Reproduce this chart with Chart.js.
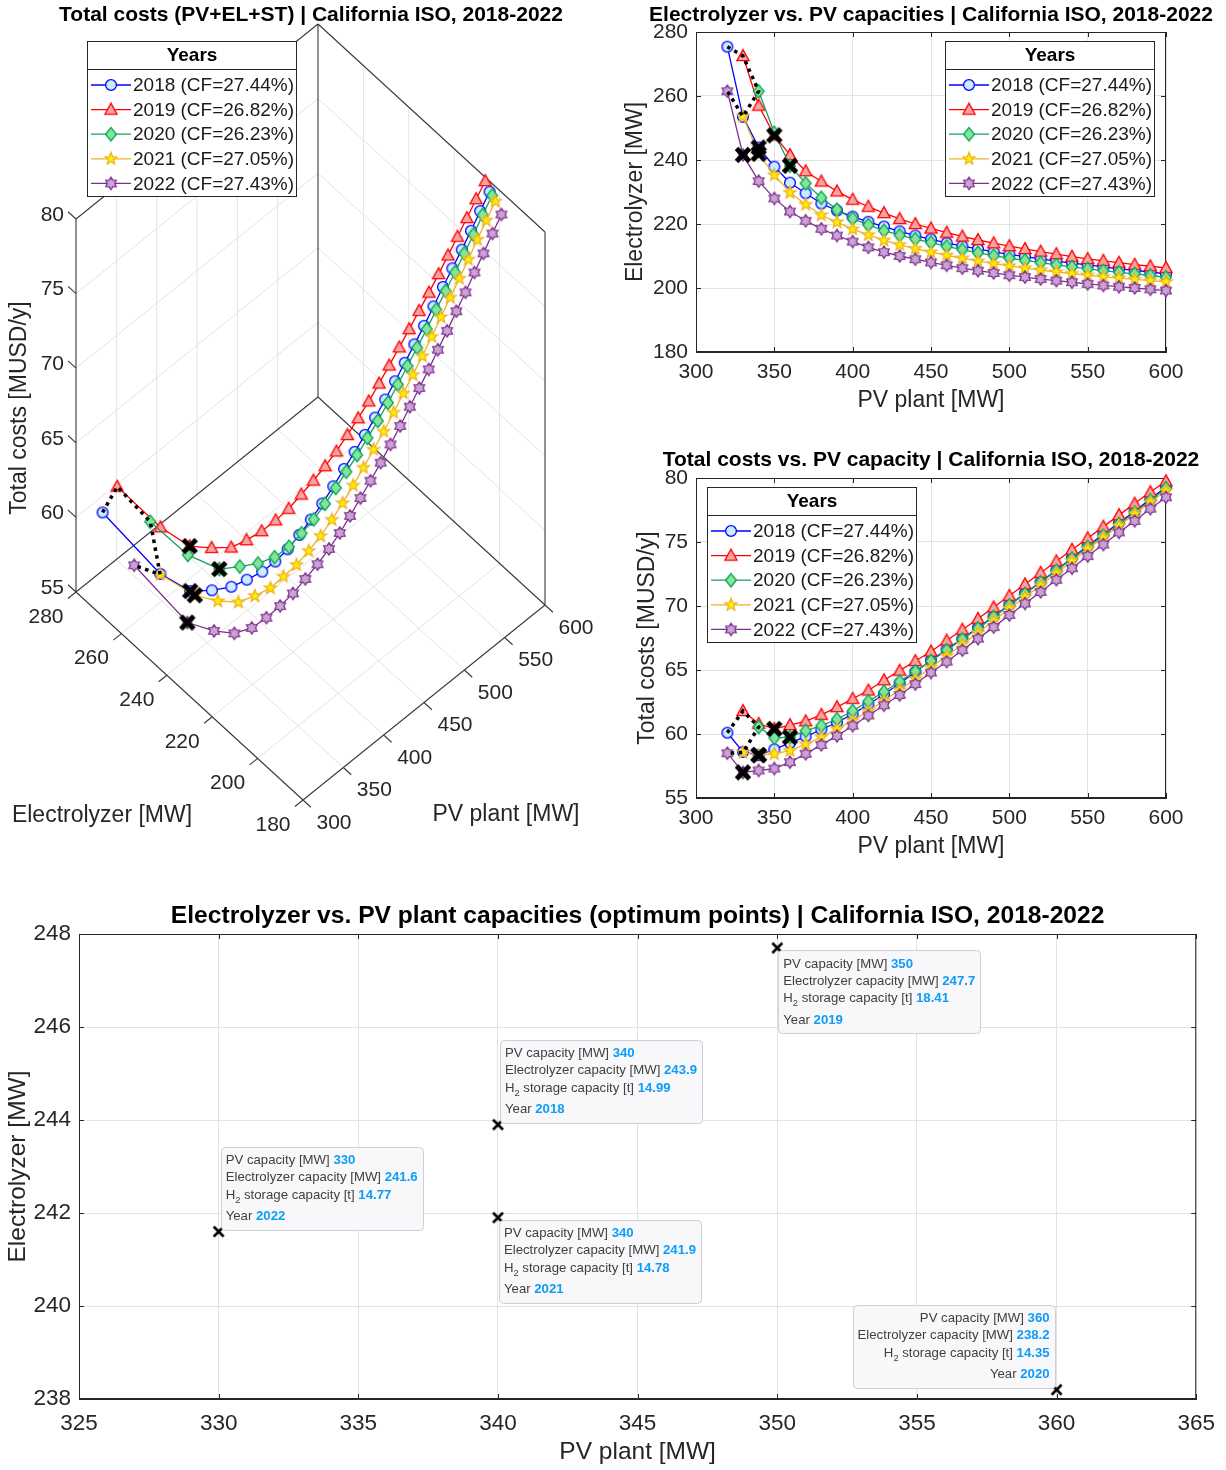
<!DOCTYPE html>
<html>
<head>
<meta charset="utf-8">
<title>California ISO 2018-2022</title>
<script src="https://cdn.jsdelivr.net/npm/chart.js@4.4.1/dist/chart.umd.min.js"></script>
<style>
  html, body { margin:0; padding:0; background:#ffffff; }
  body { position:relative; width:1226px; height:1470px; overflow:hidden; }
  canvas { position:absolute; display:block; }
</style>
</head>
<body>
<canvas id="c3d" width="600" height="860" style="left:0px;top:0px;width:600px;height:860px"></canvas>
<canvas id="cEl" width="626" height="430" style="left:600px;top:0px;width:626px;height:430px"></canvas>
<canvas id="cCost" width="626" height="440" style="left:600px;top:430px;width:626px;height:440px"></canvas>
<canvas id="cOpt" width="1226" height="590" style="left:0px;top:880px;width:1226px;height:590px"></canvas>
<script>
// ================= DATA =================
const pvPlant = [320,330,340,350,360,370,380,390,400,410,420,430,440,450,460,470,480,490,500,510,520,530,540,550,560,570,580,590,600];
const years = ['2018','2019','2020','2021','2022'];
const cfValues = ['27.44','26.82','26.23','27.05','27.43'];
const legendTitle = 'Years';

// Electrolyzer capacity [MW] per PV capacity
const el2018 = [275.4,253.5,243.9,237.9,232.9,229.6,226.4,224.2,222.3,220.7,219.2,217.7,216.4,215.2,214.1,213.1,212.2,211.3,210.5,209.8,209.1,208.4,207.8,207.2,206.6,206.0,205.5,205.0,204.4];
const el2019 = [null,272.5,257.0,247.7,241.6,236.5,233.3,230.2,227.6,225.4,223.4,221.6,220.0,218.6,217.3,216.1,215.0,214.0,213.1,212.2,211.4,210.6,209.8,209.1,208.5,207.9,207.3,206.8,206.3];
const el2020 = [null,null,261.5,248.5,238.2,232.7,228.2,224.5,221.7,219.7,217.9,216.5,215.3,214.2,213.0,212.0,211.0,210.1,209.3,208.6,207.9,207.2,206.6,206.0,205.4,204.9,204.4,203.9,203.3];
const el2021 = [null,253.6,241.9,235.3,229.8,226.1,222.8,220.6,218.4,216.6,214.9,213.5,212.3,211.2,210.2,209.3,208.4,207.6,206.9,206.2,205.6,205.0,204.5,204.0,203.5,203.1,202.7,202.3,201.9];
const el2022 = [261.5,241.6,233.4,228.0,223.9,221.0,218.5,216.4,214.5,212.7,211.2,210.0,209.0,208.0,207.1,206.2,205.4,204.7,204.0,203.4,202.8,202.3,201.8,201.3,200.8,200.4,200.0,199.6,199.2];

// Total costs [MUSD/y] per PV capacity
const cost2018 = [60.1,58.6,58.35,58.8,59.3,59.8,60.35,60.9,61.55,62.3,63.1,63.95,64.85,65.75,66.6,67.45,68.3,69.2,70.1,71.0,71.9,72.8,73.75,74.7,75.6,76.5,77.4,78.35,79.3];
const cost2019 = [null,61.8,60.8,60.4,60.7,61.0,61.5,62.1,62.75,63.4,64.2,64.95,65.7,66.45,67.3,68.15,69.0,69.9,70.8,71.7,72.6,73.5,74.4,75.3,76.2,77.1,78.0,78.9,79.75];
const cost2020 = [null,null,60.55,59.7,59.75,60.25,60.65,61.15,61.8,62.55,63.3,64.1,64.9,65.7,66.55,67.4,68.25,69.15,70.05,70.95,71.85,72.75,73.7,74.6,75.5,76.4,77.3,78.25,79.2];
const cost2021 = [null,58.55,58.35,58.45,58.7,59.2,59.75,60.4,61.05,61.8,62.6,63.45,64.3,65.2,66.1,67.0,67.9,68.85,69.8,70.7,71.6,72.55,73.5,74.45,75.35,76.25,77.2,78.1,79.0];
const cost2022 = [58.5,57.0,57.15,57.3,57.8,58.45,59.15,59.85,60.65,61.45,62.25,63.05,63.9,64.8,65.65,66.55,67.45,68.35,69.3,70.2,71.1,72.05,72.95,73.9,74.8,75.75,76.65,77.6,78.5];

// Optimum points
const optPV = [340,350,360,340,330];
const optEL = [243.9,247.7,238.2,241.9,241.6];
const optStorage = [14.99,18.41,14.35,14.78,14.77];

// Tick values
const pvTicks = [300,350,400,450,500,550,600];
const elTicks = [180,200,220,240,260,280];
const costTicks = [55,60,65,70,75,80];

// ================= STYLE =================
const FONT = '"Liberation Sans", Arial, Helvetica, sans-serif';
const AX = '#262626';
const GRID = '#e2e2e2';
const lineColors = ['#0000ff','#ff0000','#13a05e','#efb122','#7e2f8e'];
const edgeColors = ['#0000ff','#ff0000','#00a651','#efb122','#7e2f8e'];
const faceColors = ['#c9edff','#f6a3a3','#86e39b','#ffee00','#c8a3d3'];
const markerKinds = ['circle','triangle','diamond','pentagram','hexagram'];
const tipPlace = ['ur','dr','ul','dr','ur'];

const elSeries = [el2018, el2019, el2020, el2021, el2022];
const costSeries = [cost2018, cost2019, cost2020, cost2021, cost2022];
const legendLabels = years.map((y, k) => y + ' (CF=' + cfValues[k] + '%)');

function makeMarker(kind, stroke, fill) {
  const s = 18; const c = document.createElement('canvas'); c.width = s; c.height = s;
  const g = c.getContext('2d'); g.translate(s / 2, s / 2);
  g.lineWidth = 1.3; g.strokeStyle = stroke; g.fillStyle = fill; g.lineJoin = 'miter';
  g.beginPath();
  if (kind === 'circle') g.arc(0, 0, 5.4, 0, Math.PI * 2);
  else if (kind === 'triangle') { g.moveTo(0, -6.4); g.lineTo(6.1, 4.7); g.lineTo(-6.1, 4.7); g.closePath(); }
  else if (kind === 'diamond') { g.moveTo(0, -6.6); g.lineTo(5.4, 0); g.lineTo(0, 6.6); g.lineTo(-5.4, 0); g.closePath(); }
  else if (kind === 'pentagram') {
    for (let i = 0; i < 10; i++) { const r = i % 2 ? 2.7 : 6.4; const a = -Math.PI / 2 + i * Math.PI / 5; g.lineTo(r * Math.cos(a), r * Math.sin(a)); }
    g.closePath();
  } else if (kind === 'hexagram') {
    for (let i = 0; i < 12; i++) { const r = i % 2 ? 3.8 : 6.1; const a = -Math.PI / 2 + i * Math.PI / 6; g.lineTo(r * Math.cos(a), r * Math.sin(a)); }
    g.closePath();
  }
  g.fill(); g.stroke();
  return c;
}
function makeCross(half, lw) {
  const s = Math.ceil(2 * half + lw + 4); const c = document.createElement('canvas'); c.width = s; c.height = s;
  const g = c.getContext('2d'); g.translate(s / 2, s / 2);
  g.strokeStyle = '#000'; g.lineWidth = lw; g.lineCap = 'butt';
  g.beginPath(); g.moveTo(-half, -half); g.lineTo(half, half); g.moveTo(half, -half); g.lineTo(-half, half); g.stroke();
  return c;
}
const markers = markerKinds.map((k, i) => makeMarker(k, edgeColors[i], faceColors[i]));
const bigX = makeCross(6.5, 5);
const smallX = makeCross(5, 2.6);

function firstIndex(arr) { return arr.findIndex(v => v != null); }
function pairs(xs, ys) { return xs.map((x, i) => ys[i] == null ? null : { x: x, y: ys[i] }).filter(Boolean); }
function costAt(k, pv) { return costSeries[k][pvPlant.indexOf(pv)]; }

function drawLegend(ctx, x, y) {
  const w = 210, h = 156;
  ctx.save();
  ctx.fillStyle = '#fff'; ctx.fillRect(x, y, w, h);
  ctx.strokeStyle = AX; ctx.lineWidth = 1;
  ctx.strokeRect(x + 0.5, y + 0.5, w - 1, h - 1);
  ctx.beginPath(); ctx.moveTo(x, y + 28.5); ctx.lineTo(x + w, y + 28.5); ctx.stroke();
  ctx.fillStyle = '#000'; ctx.font = 'bold 19px ' + FONT; ctx.textAlign = 'center'; ctx.textBaseline = 'middle';
  ctx.fillText(legendTitle, x + w / 2, y + 15);
  ctx.font = '19px ' + FONT; ctx.textAlign = 'left';
  legendLabels.forEach((lab, k) => {
    const cy = y + 44 + k * 24.6;
    ctx.strokeStyle = lineColors[k]; ctx.lineWidth = 1.3;
    ctx.beginPath(); ctx.moveTo(x + 4, cy); ctx.lineTo(x + 44, cy); ctx.stroke();
    const m = markers[k]; ctx.drawImage(m, x + 24 - m.width / 2, cy - m.height / 2);
    ctx.fillStyle = '#1a1a1a'; ctx.fillText(lab, x + 46, cy + 1);
  });
  ctx.restore();
}

function text(ctx, str, x, y, font, opts) {
  opts = opts || {};
  ctx.save();
  ctx.font = font; ctx.fillStyle = opts.color || AX; ctx.textAlign = opts.align || 'center'; ctx.textBaseline = 'middle';
  ctx.translate(x, y); if (opts.rot) ctx.rotate(opts.rot);
  ctx.fillText(str, 0, 0);
  ctx.restore();
}

// ================= 2D frame plugin =================
const framePlugin = {
  id: 'frame2d',
  beforeDatasetsDraw(chart) {
    const { ctx, chartArea: a, scales: { x, y } } = chart;
    ctx.save();
    ctx.strokeStyle = AX; ctx.lineWidth = 1;
    ctx.beginPath();
    ctx.moveTo(a.left, a.top + 0.5); ctx.lineTo(a.right, a.top + 0.5);
    ctx.moveTo(a.right - 0.5, a.top); ctx.lineTo(a.right - 0.5, a.bottom);
    ctx.moveTo(a.left + 0.5, a.top); ctx.lineTo(a.left + 0.5, a.bottom);
    ctx.moveTo(a.left, a.bottom - 0.5); ctx.lineTo(a.right, a.bottom - 0.5);
    x.ticks.forEach(t => {
      const px = Math.round(x.getPixelForValue(t.value)) + 0.5;
      ctx.moveTo(px, a.bottom); ctx.lineTo(px, a.bottom - 5);
      ctx.moveTo(px, a.top); ctx.lineTo(px, a.top + 5);
    });
    y.ticks.forEach(t => {
      const py = Math.round(y.getPixelForValue(t.value)) + 0.5;
      ctx.moveTo(a.left, py); ctx.lineTo(a.left + 5, py);
      ctx.moveTo(a.right, py); ctx.lineTo(a.right - 5, py);
    });
    ctx.stroke();
    ctx.restore();
  }
};

function axisOpts(min, max, step, fontSize, padding, fit, isX) {
  return {
    type: 'linear', min: min, max: max,
    ticks: { stepSize: step, autoSkip: false, maxRotation: 0, padding: padding, color: AX, font: { family: FONT, size: fontSize } },
    grid: { color: GRID, lineWidth: 1, drawTicks: false },
    border: { color: AX, width: 1 },
    afterFit: s => { if (isX) s.height = fit; else s.width = fit; }
  };
}

function seriesDatasets(valSeries) {
  const ds = [];
  years.forEach((yr, k) => {
    ds.push({
      label: yr, data: pairs(pvPlant, valSeries[k]), showLine: true,
      borderColor: lineColors[k], borderWidth: 1.3, backgroundColor: faceColors[k],
      pointStyle: markers[k], pointRadius: 6, order: 10 - k, clip: false
    });
  });
  // dotted line linking the first point of each year
  ds.push({
    label: 'first', data: years.map((_, k) => { const i = firstIndex(valSeries[k]); return { x: pvPlant[i], y: valSeries[k][i] }; }),
    showLine: true, borderColor: '#000', borderWidth: 3.5, borderDash: [3.5, 4.5], pointRadius: 0, order: 1, clip: false
  });
  return ds;
}

const commonOpts = {
  responsive: false, animation: false, devicePixelRatio: 1, events: [],
  plugins: { legend: { display: false }, tooltip: { enabled: false }, title: { display: false } }
};

// ================= Chart B : Electrolyzer vs PV =================
(function () {
  const ds = seriesDatasets(elSeries);
  ds.push({ label: 'opt', data: years.map((_, k) => ({ x: optPV[k], y: optEL[k] })), showLine: false,
    pointStyle: bigX, pointRadius: 8, order: 0, clip: false });
  new Chart(document.getElementById('cEl'), {
    type: 'scatter',
    data: { datasets: ds },
    options: Object.assign({}, commonOpts, {
      layout: { autoPadding: false, padding: { left: 0, right: 60, top: 32, bottom: 0 } },
      scales: {
        x: axisOpts(300, 600, 50, 21, 8, 78, true),
        y: axisOpts(180, 280, 20, 21, 8, 96, false)
      }
    }),
    plugins: [framePlugin, {
      id: 'txtB',
      afterDraw(chart) {
        const { ctx, chartArea: a } = chart; const cx = (a.left + a.right) / 2;
        text(ctx, 'Electrolyzer vs. PV capacities | California ISO, 2018-2022', cx, 15, 'bold 21px ' + FONT, { color: '#000' });
        text(ctx, 'PV plant [MW]', cx, 401, '23px ' + FONT);
        text(ctx, 'Electrolyzer [MW]', 36, (a.top + a.bottom) / 2, '23px ' + FONT, { rot: -Math.PI / 2 });
        drawLegend(ctx, 345, 41);
      }
    }]
  });
})();

// ================= Chart C : Total costs vs PV =================
(function () {
  const ds = seriesDatasets(costSeries);
  ds.push({ label: 'opt', data: years.map((_, k) => ({ x: optPV[k], y: costAt(k, optPV[k]) })), showLine: false,
    pointStyle: bigX, pointRadius: 8, order: 0, clip: false });
  new Chart(document.getElementById('cCost'), {
    type: 'scatter',
    data: { datasets: ds },
    options: Object.assign({}, commonOpts, {
      layout: { autoPadding: false, padding: { left: 0, right: 60, top: 48, bottom: 0 } },
      scales: {
        x: axisOpts(300, 600, 50, 21, 8, 72, true),
        y: axisOpts(55, 80, 5, 21, 8, 96, false)
      }
    }),
    plugins: [framePlugin, {
      id: 'txtC',
      afterDraw(chart) {
        const { ctx, chartArea: a } = chart; const cx = (a.left + a.right) / 2;
        text(ctx, 'Total costs vs. PV capacity | California ISO, 2018-2022', cx, 30, 'bold 21px ' + FONT, { color: '#000' });
        text(ctx, 'PV plant [MW]', cx, 417, '23px ' + FONT);
        text(ctx, 'Total costs [MUSD/y]', 48, (a.top + a.bottom) / 2, '23px ' + FONT, { rot: -Math.PI / 2 });
        drawLegend(ctx, 107, 57);
      }
    }]
  });
})();

// ================= Chart D : optimum points =================
(function () {
  const tipPlugin = {
    id: 'tips',
    afterDatasetsDraw(chart) {
      const { ctx, scales: { x, y } } = chart;
      ctx.save();
      const fReg = '13.2px ' + FONT, fBold = 'bold 13.2px ' + FONT, fSub = '9.3px ' + FONT;
      years.forEach((yr, k) => {
        const px = x.getPixelForValue(optPV[k]), py = y.getPixelForValue(optEL[k]);
        const lines = [
          ['PV capacity [MW] ', String(optPV[k])],
          ['Electrolyzer capacity [MW] ', optEL[k].toFixed(1)],
          ['H2 storage capacity [t] ', optStorage[k].toFixed(2)],
          ['Year ', yr]
        ];
        const widths = lines.map((l, i) => {
          ctx.font = fReg; let w;
          if (i === 2) { w = ctx.measureText('H').width; ctx.font = fSub; w += ctx.measureText('2').width; ctx.font = fReg; w += ctx.measureText(' storage capacity [t] ').width; }
          else w = ctx.measureText(l[0]).width;
          ctx.font = fBold; return [w, ctx.measureText(l[1]).width];
        });
        const bw = Math.max(...widths.map(w => w[0] + w[1])) + 10, bh = 83;
        let left, top;
        if (tipPlace[k] === 'ur') { left = px + 2; top = py - 85; }
        else if (tipPlace[k] === 'dr') { left = px + 1; top = py + 2; }
        else { left = px - 2 - bw; top = py - 85; }
        ctx.beginPath();
        ctx.roundRect(Math.round(left) + 0.5, Math.round(top) + 0.5, bw, bh, 4);
        ctx.fillStyle = '#f8f8fb'; ctx.fill();
        ctx.strokeStyle = '#cdced6'; ctx.lineWidth = 1; ctx.stroke();
        const offs = [14, 31, 48.5, 70];
        ctx.textBaseline = 'middle'; ctx.textAlign = 'left';
        lines.forEach((l, i) => {
          const tw = widths[i][0] + widths[i][1];
          let tx = tipPlace[k] === 'ul' ? left + bw - 5 - tw : left + 5;
          const ty = top + offs[i];
          ctx.fillStyle = '#404040'; ctx.font = fReg;
          if (i === 2) {
            ctx.fillText('H', tx, ty); tx += ctx.measureText('H').width;
            ctx.font = fSub; ctx.fillText('2', tx, ty + 5); tx += ctx.measureText('2').width;
            ctx.font = fReg; ctx.fillText(' storage capacity [t] ', tx, ty); tx += ctx.measureText(' storage capacity [t] ').width;
          } else { ctx.fillText(l[0], tx, ty); tx += ctx.measureText(l[0]).width; }
          ctx.font = fBold; ctx.fillStyle = '#0d9cf7'; ctx.fillText(l[1], tx, ty);
        });
      });
      ctx.restore();
    }
  };
  new Chart(document.getElementById('cOpt'), {
    type: 'scatter',
    data: { datasets: [{ label: 'optimum', data: years.map((_, k) => ({ x: optPV[k], y: optEL[k] })),
      pointStyle: smallX, pointRadius: 5, clip: false }] },
    options: Object.assign({}, commonOpts, {
      layout: { autoPadding: false, padding: { left: 0, right: 28, top: 54, bottom: 0 } },
      scales: {
        x: axisOpts(325, 365, 5, 22.5, 11, 71, true),
        y: axisOpts(238, 248, 2, 22.5, 8, 79, false)
      }
    }),
    plugins: [framePlugin, tipPlugin, {
      id: 'txtD',
      afterDraw(chart) {
        const { ctx, chartArea: a } = chart; const cx = (a.left + a.right) / 2;
        text(ctx, 'Electrolyzer vs. PV plant capacities (optimum points) | California ISO, 2018-2022', cx, 36, 'bold 24.6px ' + FONT, { color: '#000' });
        text(ctx, 'PV plant [MW]', cx, 572, '24.5px ' + FONT);
        text(ctx, 'Electrolyzer [MW]', 18, (a.top + a.bottom) / 2, '24.5px ' + FONT, { rot: -Math.PI / 2 });
      }
    }]
  });
})();

// ================= Chart A : 3D view (orthographic projection) =================
const VIEW = { ox: 76, oy: 592, ax: 242 / 300, ay: -195 / 300, bx: -2.27, by: -2.08, cz: -14.92, pv0: 300, el0: 280, z0: 55 };
function proj(pv, el, z) {
  return {
    x: VIEW.ox + (pv - VIEW.pv0) * VIEW.ax + (el - VIEW.el0) * VIEW.bx,
    y: VIEW.oy + (pv - VIEW.pv0) * VIEW.ay + (el - VIEW.el0) * VIEW.by + (z - VIEW.z0) * VIEW.cz
  };
}
(function () {
  const ds = [];
  years.forEach((yr, k) => {
    const pts = pvPlant.map((pv, i) => elSeries[k][i] == null ? null : proj(pv, elSeries[k][i], costSeries[k][i])).filter(Boolean);
    ds.push({ label: yr, data: pts, showLine: true, borderColor: lineColors[k], borderWidth: 1.3,
      pointStyle: markers[k], pointRadius: 6, order: 10 - k, clip: false });
  });
  ds.push({ label: 'first', data: years.map((_, k) => { const i = firstIndex(elSeries[k]); return proj(pvPlant[i], elSeries[k][i], costSeries[k][i]); }),
    showLine: true, borderColor: '#000', borderWidth: 3.5, borderDash: [3.5, 4.5], pointRadius: 0, order: 1, clip: false });
  ds.push({ label: 'opt', data: years.map((_, k) => proj(optPV[k], optEL[k], costAt(k, optPV[k]))), showLine: false,
    pointStyle: bigX, pointRadius: 8, order: 0, clip: false });

  const pvMin = pvTicks[0], pvMax = pvTicks[pvTicks.length - 1];
  const elMin = elTicks[0], elMax = elTicks[elTicks.length - 1];
  const zMin = costTicks[0], zMax = costTicks[costTicks.length - 1];

  const box3d = {
    id: 'box3d',
    beforeDatasetsDraw(chart) {
      const { ctx, scales: { x, y } } = chart;
      const P = (pv, el, z) => { const q = proj(pv, el, z); return [x.getPixelForValue(q.x), y.getPixelForValue(q.y)]; };
      const seg = (a, b) => { ctx.moveTo(a[0], a[1]); ctx.lineTo(b[0], b[1]); };
      ctx.save();
      ctx.strokeStyle = '#e3e3e3'; ctx.lineWidth = 1; ctx.beginPath();
      pvTicks.slice(1, -1).forEach(pv => { seg(P(pv, elMin, zMin), P(pv, elMax, zMin)); seg(P(pv, elMax, zMin), P(pv, elMax, zMax)); });
      elTicks.slice(1, -1).forEach(el => { seg(P(pvMin, el, zMin), P(pvMax, el, zMin)); seg(P(pvMax, el, zMin), P(pvMax, el, zMax)); });
      costTicks.slice(1, -1).forEach(z => { seg(P(pvMin, elMax, z), P(pvMax, elMax, z)); seg(P(pvMax, elMax, z), P(pvMax, elMin, z)); });
      ctx.stroke();
      ctx.strokeStyle = '#3a3a3a'; ctx.lineWidth = 1.1; ctx.beginPath();
      seg(P(pvMin, elMax, zMin), P(pvMin, elMax, zMax));
      seg(P(pvMin, elMax, zMin), P(pvMin, elMin, zMin));
      seg(P(pvMin, elMin, zMin), P(pvMax, elMin, zMin));
      seg(P(pvMax, elMin, zMin), P(pvMax, elMin, zMax));
      seg(P(pvMax, elMin, zMax), P(pvMax, elMax, zMax));
      seg(P(pvMax, elMax, zMax), P(pvMin, elMax, zMax));
      seg(P(pvMax, elMax, zMin), P(pvMax, elMax, zMax));
      seg(P(pvMax, elMax, zMin), P(pvMax, elMin, zMin));
      seg(P(pvMax, elMax, zMin), P(pvMin, elMax, zMin));
      // tick marks
      costTicks.forEach(z => seg(P(pvMin, elMax, z), P(pvMin, elMax + 3.5, z)));
      pvTicks.forEach(pv => seg(P(pv, elMin, zMin), P(pv, elMin - 3.5, zMin)));
      elTicks.forEach(el => seg(P(pvMin, el, zMin), P(pvMin - 10, el, zMin)));
      ctx.stroke();
      ctx.restore();
    },
    afterDraw(chart) {
      const { ctx, scales: { x, y } } = chart;
      const P = (pv, el, z) => { const q = proj(pv, el, z); return [x.getPixelForValue(q.x), y.getPixelForValue(q.y)]; };
      const f = '21px ' + FONT;
      costTicks.forEach(z => { const p = P(pvMin, elMax, z); text(ctx, String(z), p[0] - 12, p[1] - 4, f, { align: 'right' }); });
      pvTicks.forEach(pv => { const p = P(pv, elMin, zMin); text(ctx, String(pv), p[0] + 31, p[1] + 23, f); });
      elTicks.forEach(el => { const p = P(pvMin, el, zMin); text(ctx, String(el), p[0] - 30, p[1] + 25, f); });
      text(ctx, 'Total costs (PV+EL+ST) | California ISO, 2018-2022', 311, 15, 'bold 21px ' + FONT, { color: '#000' });
      text(ctx, 'PV plant [MW]', 506, 815, '23px ' + FONT);
      text(ctx, 'Electrolyzer [MW]', 102, 816, '23px ' + FONT);
      text(ctx, 'Total costs [MUSD/y]', 20, 408, '23px ' + FONT, { rot: -Math.PI / 2 });
      drawLegend(ctx, 87, 41);
    }
  };

  new Chart(document.getElementById('c3d'), {
    type: 'scatter',
    data: { datasets: ds },
    options: Object.assign({}, commonOpts, {
      layout: { autoPadding: false, padding: 0 },
      scales: {
        x: { type: 'linear', min: 0, max: 600, display: false },
        y: { type: 'linear', min: 0, max: 860, reverse: true, display: false }
      }
    }),
    plugins: [box3d]
  });
})();
</script>
</body>
</html>
